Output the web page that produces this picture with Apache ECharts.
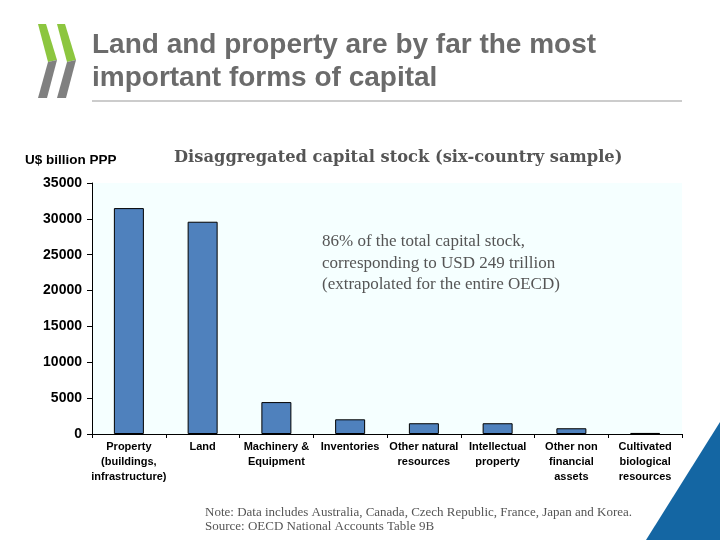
<!DOCTYPE html>
<html>
<head>
<meta charset="utf-8">
<script src="https://cdn.jsdelivr.net/npm/echarts@6/dist/echarts.min.js"></script>
<style>html,body{margin:0;padding:0;background:#fff;}#c{width:720px;height:540px;}</style>
</head>
<body>
<div id="c"></div>
<script>
const categories = ["Property\n(buildings,\ninfrastructure)", "Land", "Machinery &\nEquipment", "Inventories", "Other natural\nresources", "Intellectual\nproperty", "Other non\nfinancial\nassets", "Cultivated\nbiological\nresources"];
const capitalValues = [31500, 29600, 4450, 2050, 1500, 1500, 800, 150];
const yTicks = {min: 0, max: 35000, interval: 5000};

const chart = echarts.init(document.getElementById('c'), null, {renderer: 'canvas'});
chart.setOption({
  animation: false,
  backgroundColor: '#ffffff',
  grid: {left: 92, right: 38, top: 183, bottom: 106, show: true, backgroundColor: '#f5ffff', borderWidth: 0},
  xAxis: {
    type: 'category',
    data: categories,
    axisLine: {lineStyle: {color: '#000', width: 1}},
    axisTick: {show: true, length: 4, lineStyle: {color: '#000'}},
    axisLabel: {color: '#000', fontFamily: 'Liberation Sans, Arial', fontWeight: 'bold', fontSize: 11, lineHeight: 15, margin: 5, interval: 0}
  },
  yAxis: {
    type: 'value',
    min: yTicks.min, max: yTicks.max, interval: yTicks.interval,
    axisLine: {show: true, lineStyle: {color: '#000', width: 1}},
    axisTick: {show: true, length: 5, lineStyle: {color: '#000'}},
    splitLine: {show: false},
    axisLabel: {color: '#000', fontFamily: 'Liberation Sans, Arial', fontWeight: 'bold', fontSize: 14, margin: 10, formatter: function (v) { return String(v); }}
  },
  series: [{
    type: 'bar',
    data: capitalValues,
    barWidth: 30,
    itemStyle: {color: '#4f81bd', borderColor: '#000', borderWidth: 1}
  }],
  graphic: [
    {type: 'polygon', shape: {points: [[38,24],[46,24],[57,60],[48,62]]}, style: {fill: '#8cc63f'}},
    {type: 'polygon', shape: {points: [[48,62],[57,60],[47,98],[38,98]]}, style: {fill: '#808080'}},
    {type: 'polygon', shape: {points: [[57,24],[65,24],[76,60],[67,62]]}, style: {fill: '#8cc63f'}},
    {type: 'polygon', shape: {points: [[67,62],[76,60],[66,98],[57,98]]}, style: {fill: '#808080'}},
    {type: 'text', left: 92, top: 29, style: {text: 'Land and property are by far the most\nimportant forms of capital', fill: '#6b6b6b', font: 'bold 28px "Liberation Sans", Arial', lineHeight: 33}},
    {type: 'line', shape: {x1: 92, y1: 101, x2: 682, y2: 101}, style: {stroke: '#999', lineWidth: 1}},
    {type: 'text', left: 25, top: 153, style: {text: 'U$ billion PPP', fill: '#000', font: 'bold 13.5px "Liberation Sans", Arial'}},
    {type: 'text', left: 174, top: 150, style: {text: 'Disaggregated capital stock (six-country sample)', fill: '#555', font: 'bold 16.3px "DejaVu Serif", serif'}},
    {type: 'text', left: 322, top: 231, style: {text: '86% of the total capital stock,\ncorresponding to USD 249 trillion\n(extrapolated for the entire OECD)', fill: '#555', font: '17px "Liberation Serif", serif', lineHeight: 21.5}},
    {type: 'text', left: 205, top: 506, style: {text: 'Note: Data includes Australia, Canada, Czech Republic, France, Japan and Korea.\nSource: OECD National Accounts Table 9B', fill: '#555', font: '13px "Liberation Serif", serif', lineHeight: 14}},
    {type: 'polygon', shape: {points: [[720,422],[720,540],[646,540]]}, style: {fill: '#1466a3'}}
  ]
});
</script>
</body>
</html>
